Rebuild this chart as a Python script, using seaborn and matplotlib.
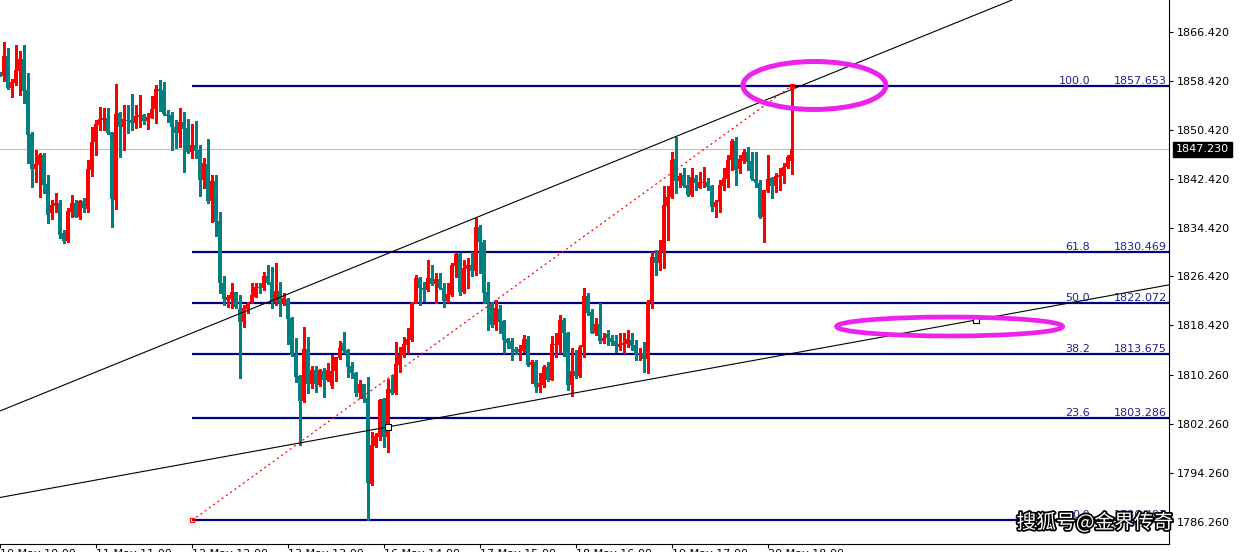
import numpy as np
import matplotlib
matplotlib.use("Agg")
import matplotlib.pyplot as plt
import matplotlib.patheffects as pe
from matplotlib.patches import Ellipse
import seaborn as sns

# ---------------- data (XAUUSD H1) ----------------
opens = [1859.67, 1859.27, 1862.50, 1857.31, 1858.13, 1860.09, 1862.01, 1856.93, 1849.73, 1844.05,
         1844.71, 1846.30, 1841.55, 1836.76, 1838.00, 1838.49, 1833.58, 1832.27, 1837.02, 1838.49,
         1836.10, 1838.77, 1837.46, 1843.89, 1848.47, 1851.25, 1852.02, 1852.35, 1850.06, 1838.93,
         1853.17, 1850.93, 1852.02, 1852.02, 1851.58, 1852.47, 1852.79, 1851.91, 1852.40, 1853.77,
         1857.10, 1856.93, 1853.00, 1852.79, 1850.93, 1849.85, 1851.70, 1850.71, 1846.84, 1847.93,
         1847.11, 1842.20, 1844.82, 1838.77, 1842.04, 1835.50, 1825.40, 1822.57, 1822.68, 1823.83,
         1821.09, 1819.02, 1821.05, 1822.19, 1823.11, 1824.70, 1824.58, 1826.54, 1825.46, 1822.19,
         1824.04, 1821.91, 1822.73, 1819.57, 1813.57, 1810.18, 1806.09, 1814.55, 1808.82, 1811.11,
         1808.66, 1811.00, 1809.48, 1808.50, 1810.90, 1813.03, 1815.58, 1814.39, 1811.77, 1810.57,
         1807.30, 1808.82, 1806.48, 1792.46, 1798.73, 1800.20, 1806.32, 1800.20, 1808.00, 1807.30,
         1811.93, 1813.57, 1815.20, 1816.02, 1822.13, 1826.22, 1824.48, 1824.20, 1826.22, 1825.19,
         1826.00, 1824.58, 1822.40, 1823.39, 1828.13, 1830.10, 1823.93, 1827.64, 1828.30, 1827.36,
         1834.46, 1832.11, 1823.93, 1821.75, 1818.48, 1821.05, 1819.13, 1816.14, 1815.91, 1814.50,
         1814.11, 1814.27, 1816.19, 1811.93, 1812.47, 1808.28, 1808.66, 1811.55, 1809.48, 1815.20,
         1815.20, 1819.30, 1817.12, 1808.66, 1811.00, 1810.18, 1814.83, 1823.27, 1820.66, 1817.22,
         1818.64, 1815.91, 1816.95, 1816.35, 1815.91, 1814.83, 1815.20, 1815.37, 1816.02, 1815.20,
         1813.73, 1813.85, 1812.91, 1822.29, 1829.65, 1828.57, 1830.47, 1837.95, 1839.37, 1845.64,
         1842.09, 1843.02, 1841.39, 1839.75, 1842.58, 1840.94, 1841.66, 1841.93, 1841.22, 1837.84,
         1838.56, 1841.22, 1842.32, 1845.48, 1848.64, 1843.96, 1845.31, 1846.84, 1845.31, 1842.37,
         1841.76, 1836.10, 1840.45, 1842.48, 1841.22, 1842.74, 1842.86, 1844.28, 1845.36]
highs = [1859.88, 1864.79, 1863.76, 1858.73, 1864.30, 1863.27, 1864.30, 1859.66, 1850.11, 1847.11,
         1846.57, 1846.57, 1843.02, 1838.93, 1840.03, 1838.93, 1834.02, 1837.57, 1839.75, 1838.93,
         1838.93, 1839.21, 1845.48, 1850.93, 1852.02, 1854.10, 1853.94, 1853.94, 1850.11, 1857.91,
         1853.38, 1854.48, 1854.48, 1856.23, 1854.48, 1856.11, 1853.00, 1853.12, 1855.95, 1857.75,
         1858.57, 1858.29, 1853.66, 1853.38, 1852.02, 1853.94, 1853.38, 1852.14, 1851.37, 1851.91,
         1847.93, 1845.76, 1848.91, 1843.02, 1843.02, 1837.02, 1826.50, 1823.39, 1825.40, 1823.93,
         1823.39, 1821.75, 1822.29, 1825.40, 1825.30, 1825.30, 1827.20, 1828.30, 1828.02, 1828.67,
         1825.56, 1823.66, 1822.85, 1819.74, 1816.30, 1810.29, 1818.20, 1816.56, 1811.77, 1811.77,
         1811.23, 1811.39, 1812.21, 1813.57, 1813.29, 1815.91, 1817.38, 1814.50, 1812.47, 1810.84,
         1809.48, 1808.90, 1810.02, 1801.02, 1800.85, 1806.32, 1806.48, 1809.59, 1810.29, 1815.74,
         1814.93, 1816.46, 1817.94, 1822.29, 1826.66, 1826.38, 1825.56, 1829.11, 1828.30, 1826.94,
         1826.94, 1825.30, 1825.40, 1828.57, 1830.31, 1830.21, 1829.11, 1829.39, 1830.47, 1836.04,
         1834.84, 1832.39, 1825.56, 1822.29, 1822.57, 1821.75, 1819.30, 1816.30, 1816.30, 1814.93,
         1815.20, 1816.84, 1816.68, 1812.75, 1812.75, 1810.57, 1811.93, 1812.47, 1816.68, 1817.12,
         1820.11, 1819.57, 1817.38, 1814.66, 1814.39, 1815.20, 1824.48, 1823.66, 1821.05, 1819.57,
         1822.03, 1817.12, 1817.66, 1816.84, 1816.84, 1817.12, 1817.12, 1817.66, 1817.12, 1816.02,
         1814.66, 1815.74, 1822.57, 1830.47, 1830.75, 1832.39, 1841.22, 1841.22, 1846.84, 1849.19,
         1843.30, 1844.12, 1843.02, 1844.12, 1843.02, 1843.56, 1844.28, 1842.48, 1841.39, 1838.93,
         1842.20, 1844.12, 1846.30, 1848.86, 1849.19, 1846.30, 1847.23, 1847.65, 1846.84, 1846.84,
         1842.20, 1840.57, 1846.30, 1842.74, 1843.30, 1844.12, 1844.94, 1846.30, 1857.65]
lows = [1859.22, 1858.45, 1857.05, 1855.84, 1857.75, 1856.11, 1854.76, 1844.94, 1841.11, 1841.93,
        1839.47, 1840.03, 1835.22, 1835.77, 1837.02, 1832.66, 1831.94, 1832.01, 1836.20, 1836.10,
        1835.82, 1837.02, 1837.02, 1842.91, 1846.30, 1850.39, 1850.39, 1849.73, 1834.56, 1837.46,
        1846.02, 1847.11, 1849.85, 1850.39, 1850.66, 1850.93, 1851.32, 1850.50, 1852.30, 1851.58,
        1853.55, 1852.84, 1851.75, 1847.11, 1847.39, 1847.56, 1843.56, 1846.57, 1845.76, 1845.76,
        1839.59, 1840.85, 1838.39, 1835.38, 1833.09, 1823.76, 1821.75, 1821.47, 1821.21, 1821.21,
        1809.85, 1818.20, 1820.49, 1822.03, 1823.01, 1823.66, 1824.20, 1825.18, 1821.21, 1821.75,
        1819.95, 1821.75, 1815.37, 1813.40, 1809.20, 1798.84, 1805.90, 1807.30, 1808.12, 1807.56,
        1808.50, 1806.74, 1809.36, 1808.12, 1809.36, 1812.86, 1813.85, 1810.02, 1809.75, 1806.86,
        1806.48, 1805.93, 1786.49, 1792.29, 1798.56, 1799.66, 1798.56, 1797.74, 1807.20, 1807.20,
        1810.84, 1813.29, 1813.85, 1815.90, 1822.03, 1821.75, 1822.45, 1824.10, 1825.02, 1822.13,
        1824.37, 1821.47, 1822.29, 1823.22, 1826.38, 1823.39, 1823.66, 1824.48, 1826.54, 1826.66,
        1826.99, 1822.08, 1817.66, 1818.20, 1817.66, 1817.12, 1813.85, 1814.66, 1812.75, 1813.73,
        1812.75, 1814.11, 1811.80, 1808.93, 1807.56, 1807.56, 1808.38, 1809.30, 1809.40, 1813.29,
        1813.85, 1813.40, 1807.84, 1806.91, 1809.75, 1810.02, 1813.29, 1820.11, 1817.12, 1816.84,
        1815.48, 1815.48, 1815.20, 1815.20, 1814.11, 1814.39, 1813.85, 1814.93, 1814.39, 1812.75,
        1812.75, 1810.84, 1810.57, 1821.21, 1826.66, 1827.48, 1827.80, 1832.39, 1839.21, 1840.03,
        1841.11, 1841.11, 1839.64, 1839.59, 1840.57, 1840.85, 1841.11, 1840.57, 1837.18, 1836.20,
        1837.02, 1840.57, 1841.11, 1843.84, 1841.39, 1843.30, 1845.04, 1843.84, 1842.20, 1841.11,
        1836.00, 1832.11, 1840.29, 1839.21, 1840.29, 1840.57, 1841.66, 1844.12, 1843.14]
closes = [1859.39, 1862.50, 1857.21, 1858.19, 1860.21, 1862.01, 1856.82, 1849.57, 1844.05, 1844.82,
          1846.25, 1841.44, 1836.53, 1838.11, 1838.49, 1833.25, 1832.27, 1837.13, 1838.44, 1836.20,
          1838.77, 1837.57, 1844.00, 1848.42, 1851.37, 1852.24, 1852.40, 1849.94, 1839.14, 1853.00,
          1850.93, 1852.14, 1851.86, 1851.58, 1852.68, 1852.84, 1851.91, 1852.56, 1853.82, 1857.05,
          1856.82, 1852.96, 1852.73, 1850.83, 1849.85, 1851.65, 1850.60, 1846.84, 1847.93, 1847.00,
          1842.20, 1844.94, 1838.77, 1842.04, 1835.38, 1825.30, 1822.73, 1823.11, 1823.93, 1821.47,
          1819.02, 1821.21, 1821.91, 1823.39, 1824.70, 1824.48, 1826.54, 1825.40, 1822.29, 1824.04,
          1822.03, 1822.85, 1819.46, 1813.57, 1810.02, 1806.09, 1814.55, 1808.82, 1811.11, 1808.82,
          1811.11, 1809.48, 1811.11, 1810.95, 1813.19, 1814.66, 1814.22, 1811.65, 1810.57, 1807.30,
          1808.82, 1806.37, 1792.67, 1798.84, 1800.31, 1806.20, 1800.20, 1808.00, 1807.30, 1812.10,
          1813.57, 1815.37, 1816.19, 1822.13, 1826.22, 1824.58, 1824.20, 1826.22, 1825.14, 1826.00,
          1824.48, 1822.40, 1823.55, 1828.30, 1830.10, 1823.93, 1827.75, 1828.30, 1827.36, 1834.56,
          1832.11, 1823.66, 1822.03, 1818.48, 1821.31, 1819.02, 1816.02, 1815.48, 1814.55, 1814.11,
          1814.50, 1816.19, 1811.93, 1812.47, 1808.28, 1808.93, 1811.55, 1809.48, 1815.32, 1815.32,
          1819.30, 1817.12, 1808.66, 1811.00, 1810.13, 1814.83, 1823.27, 1820.49, 1817.22, 1818.64,
          1815.91, 1816.40, 1816.35, 1815.74, 1815.04, 1815.37, 1815.58, 1816.14, 1815.04, 1813.73,
          1813.94, 1812.91, 1822.29, 1829.65, 1828.57, 1830.47, 1838.11, 1839.47, 1845.48, 1842.09,
          1842.86, 1841.22, 1839.75, 1842.74, 1841.76, 1841.93, 1841.93, 1841.11, 1837.84, 1838.56,
          1841.39, 1842.48, 1845.48, 1848.64, 1843.84, 1845.59, 1846.84, 1845.20, 1842.32, 1841.66,
          1836.10, 1840.57, 1842.37, 1841.22, 1842.86, 1843.02, 1844.28, 1845.92, 1847.23]

xtick_bars = [0, 24, 48, 72, 96, 120, 144, 168, 192]
xtick_labels = ["10 May 10:00", "11 May 11:00", "12 May 12:00", "13 May 13:00", "16 May 14:00",
                "17 May 15:00", "18 May 16:00", "19 May 17:00", "20 May 18:00"]
ytick_values = [1866.42, 1858.42, 1850.42, 1842.42, 1834.42, 1826.42, 1818.42,
                1810.26, 1802.26, 1794.26, 1786.26]

fib_levels = [100.0, 61.8, 50.0, 38.2, 23.6, 0.0]
fib_prices = [1857.653, 1830.469, 1822.072, 1813.675, 1803.286, 1786.492]
fib_start_bar = 48
fib_end_bar = 198
current_price = 1847.23

upper_trend = [(119, 1836.04), (169, 1849.33)]
lower_trend = [(97, 1801.80), (244, 1819.30)]

watermark = "搜狐号@金界传奇"

# ---------------- styling ----------------
RED = "#FF0000"
TEAL = "#008080"
NAVY = "#000080"
FIBTXT = "#22228C"
MAGENTA = "#EE22EE"

sns.set_style("white")
plt.rcParams["font.family"] = ["DejaVu Sans"]

W, H = 1242, 552
fig = plt.figure(figsize=(W / 100, H / 100), dpi=100)
ax = fig.add_axes([0, 8 / H, 1169 / W, 544 / H])

XMAX = 1169 / 4.0
ax.set_xlim(0, XMAX)
ax.set_ylim(1782.64, 1871.66)

o = np.array(opens); h = np.array(highs); l = np.array(lows); c = np.array(closes)
x = np.arange(len(o))
col = np.where(c >= o, RED, TEAL)

# current price line
ax.axhline(current_price, color="#C0C0C0", lw=0.8, zorder=1)

# fib levels
ax.hlines(fib_prices, fib_start_bar, XMAX, colors=NAVY, lw=1.6, zorder=2)
for lvl, val in zip(fib_levels, fib_prices):
    ax.annotate(f"{lvl:.1f}", xy=(1090 / 1169, val), xycoords=ax.get_yaxis_transform(),
                xytext=(0, 1.5), textcoords="offset points", ha="right", va="baseline",
                fontsize=8, color=FIBTXT, zorder=7)
    ax.annotate(f"{val:.3f}", xy=(1167 / 1169, val), xycoords=ax.get_yaxis_transform(),
                xytext=(0, 1.5), textcoords="offset points", ha="right", va="baseline",
                fontsize=8, color=FIBTXT, zorder=7)

# trend lines
ax.axline(upper_trend[0], upper_trend[1], color="black", lw=0.8, zorder=5)
ax.axline(lower_trend[0], lower_trend[1], color="black", lw=0.8, zorder=5)
ax.plot([p[0] for p in lower_trend], [p[1] for p in lower_trend], "s", ms=4,
        mfc="white", mec="black", mew=0.8, zorder=6)

# fib diagonal (seaborn)
sns.lineplot(x=[fib_start_bar, fib_end_bar], y=[fib_prices[-1], fib_prices[0]], ax=ax,
             color=RED, lw=0.9, linestyle=(0, (1.6, 2.6)), zorder=5)
ax.plot([fib_start_bar, fib_end_bar], [fib_prices[-1], fib_prices[0]], "s", ms=3,
        mfc="none", mec=RED, mew=0.8, zorder=6)

# candles
ax.vlines(x, l, h, colors=col, lw=0.8, zorder=3, antialiased=False)
ax.bar(x, np.maximum(np.abs(c - o), 0.17), bottom=np.minimum(o, c), width=0.76,
       color=col, linewidth=0, zorder=4, antialiased=False)

# highlight ellipses
ax.add_patch(Ellipse((203.6, 1857.67), 35.75, 7.85, fill=False, ec=MAGENTA, lw=3.6, zorder=8))
ax.add_patch(Ellipse((237.4, 1818.23), 56.5, 3.1, fill=False, ec=MAGENTA, lw=3.4, zorder=8))

# axes & ticks
for s in ["left", "top"]:
    ax.spines[s].set_visible(False)
for s in ["right", "bottom"]:
    ax.spines[s].set_visible(True)
    ax.spines[s].set_color("black")
    ax.spines[s].set_linewidth(0.8)

ax.yaxis.tick_right()
ax.set_yticks(ytick_values)
ax.set_yticklabels([f"{v:.3f}" for v in ytick_values])
ax.tick_params(axis="y", right=True, left=False, direction="out", length=3, width=0.8,
               pad=2.5, labelsize=8, colors="black")
ax.set_xticks(xtick_bars)
ax.set_xticklabels(xtick_labels)
ax.tick_params(axis="x", bottom=True, direction="out", length=3, width=0.8, pad=0.5,
               labelsize=8, colors="black")
for lab in ax.get_xticklabels():
    lab.set_ha("left")
ax.grid(False)

# current price box
ax.annotate(f"{current_price:.3f}", xy=(1, current_price), xycoords=ax.get_yaxis_transform(),
            xytext=(5, 0), textcoords="offset points", ha="left", va="center", color="white",
            fontsize=8, bbox=dict(boxstyle="square,pad=0.25", fc="black", ec="black"),
            annotation_clip=False, zorder=10)

# watermark
fig.text(1095 / W, 1 - 523 / H, watermark, fontsize=14.2, color="white",
         family=["Noto Sans CJK SC", "DejaVu Sans"], ha="center", va="center",
         path_effects=[pe.withStroke(linewidth=2.5, foreground="black")], zorder=20)

fig.savefig("out.png", dpi=100)
